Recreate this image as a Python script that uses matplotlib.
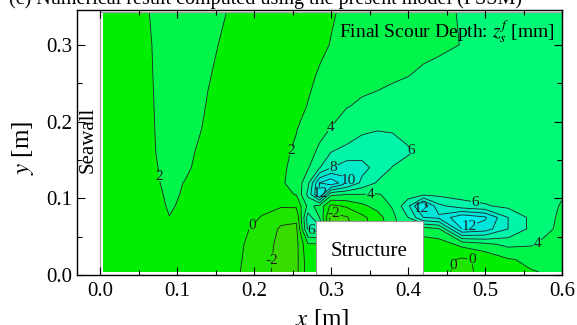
import numpy as np
import matplotlib
matplotlib.use("Agg")
import matplotlib.pyplot as plt
from matplotlib.colors import ListedColormap, BoundaryNorm
from matplotlib.patches import Rectangle

plt.rcParams['font.family'] = ['Liberation Serif', 'DejaVu Serif']
plt.rcParams['mathtext.fontset'] = 'stix'
plt.rcParams['contour.negative_linestyle'] = 'solid'

# grid (m)
x_m = [0.005, 0.04, 0.07, 0.09, 0.11, 0.14, 0.18, 0.21, 0.235, 0.255, 0.27, 0.285,
       0.30, 0.32, 0.34, 0.36, 0.38, 0.40, 0.42, 0.44, 0.47, 0.50, 0.53, 0.56, 0.60]
y_m = [0.004, 0.02, 0.04, 0.06, 0.075, 0.09, 0.105, 0.12, 0.14, 0.16, 0.19, 0.22,
       0.26, 0.30, 0.342]

# final scour depth z_s^f [mm], one row per y (bottom -> top)
zs = [
    [1.3, 1.4, 1.4, 1.4, 1.3, 1.1, 0.1, -1.3, -2.7, -2.5, 1.0, 1.5, 1.5, 1.5, 1.5, 1.5, 1.5, 1.0, 0.6, 0.5, -0.5, 0.5, 1.4, 1.9, 2.3],
    [1.3, 1.4, 1.4, 1.4, 1.3, 1.1, 0.2, -1.2, -2.7, -2.6, 1.2, 1.5, 1.5, 1.5, 1.5, 1.5, 1.5, 1.0, 0.8, 0.8, -0.3, 0.4, 1.8, 2.4, 2.6],
    [1.3, 1.5, 1.5, 1.5, 1.4, 1.2, 0.3, -1.0, -2.6, -2.6, 1.8, 1.8, 1.8, 1.8, 1.8, 1.8, 1.8, 1.5, 1.0, 1.0, 2.5, 3.5, 4.5, 4.2, 3.0],
    [1.4, 1.6, 1.6, 1.65, 1.55, 1.3, 0.5, -0.6, -2.3, -2.4, 6.5, 7.0, -2.8, -2.5, -0.8, 0.8, 3.2, 5.5, 3.0, 3.8, 12.0, 11.0, 8.0, 5.5, 3.4],
    [1.5, 1.7, 1.75, 1.99, 1.8, 1.5, 1.0, -0.1, -1.3, -1.6, 7.0, 4.0, -2.8, -2.2, -0.5, 1.0, 3.5, 6.0, 10.0, 10.5, 13.5, 12.3, 8.0, 5.5, 3.6],
    [1.5, 1.75, 1.8, 2.06, 1.9, 1.6, 1.2, 0.5, 0.2, 0.3, 4.5, 3.5, -0.5, 0.3, 1.5, 2.8, 4.2, 7.5, 13.5, 8.5, 6.8, 6.2, 5.5, 4.8, 3.9],
    [1.5, 1.8, 1.85, 2.1, 1.95, 1.7, 1.4, 1.3, 1.5, 2.1, 6.5, 12.5, 4.5, 4.05, 3.95, 3.9, 4.3, 5.0, 5.6, 5.5, 5.3, 5.2, 5.0, 4.7, 4.1],
    [1.5, 1.8, 1.9, 2.15, 1.98, 1.7, 1.4, 1.5, 1.8, 2.6, 5.5, 12.0, 13.5, 10.5, 7.5, 5.8, 5.2, 5.0, 4.9, 4.85, 4.7, 4.65, 4.6, 4.6, 4.6],
    [1.5, 1.8, 1.93, 2.2, 2.1, 1.75, 1.45, 1.5, 1.75, 2.4, 3.8, 5.9, 7.9, 9.2, 8.7, 7.3, 5.9, 5.3, 5.0, 4.9, 4.7, 4.65, 4.6, 4.6, 4.6],
    [1.5, 1.8, 1.96, 2.3, 2.15, 1.8, 1.5, 1.5, 1.7, 2.2, 3.3, 4.4, 6.0, 6.5, 7.2, 7.3, 7.0, 6.2, 5.5, 5.1, 4.8, 4.7, 4.6, 4.6, 4.6],
    [1.5, 1.8, 1.98, 2.35, 2.4, 1.85, 1.5, 1.5, 1.65, 1.95, 2.6, 3.4, 4.1, 5.0, 5.6, 5.9, 5.8, 5.5, 5.2, 5.0, 4.8, 4.7, 4.65, 4.6, 4.6],
    [1.5, 1.8, 2.0, 2.4, 2.45, 1.95, 1.6, 1.6, 1.7, 1.85, 2.02, 2.5, 3.1, 3.9, 4.3, 4.4, 4.45, 4.5, 4.55, 4.6, 4.6, 4.6, 4.6, 4.6, 4.65],
    [1.5, 1.8, 2.01, 2.4, 2.5, 2.05, 1.6, 1.6, 1.7, 1.8, 1.9, 2.05, 2.4, 2.9, 3.3, 3.6, 3.85, 3.98, 4.15, 4.25, 4.35, 4.45, 4.55, 4.6, 4.7],
    [1.5, 1.8, 2.02, 2.4, 2.5, 2.15, 1.7, 1.6, 1.6, 1.7, 1.8, 1.9, 2.02, 2.2, 2.6, 3.0, 3.3, 3.6, 3.75, 3.85, 4.02, 4.3, 4.5, 4.6, 4.7],
    [1.5, 1.8, 2.05, 2.4, 2.5, 2.3, 1.8, 1.6, 1.6, 1.7, 1.75, 1.85, 1.95, 2.1, 2.5, 2.9, 3.2, 3.5, 3.7, 3.85, 4.05, 4.3, 4.5, 4.6, 4.7],
]

fill_levels = [-8, -2, 0, 2, 4, 6, 8, 10, 12, 20]
line_levels = [-2, 0, 2, 4, 6, 8, 10, 12]
band_colors = ['#3adc00', '#1ee600', '#00ef00', '#00f54a', '#00fa78', '#00f5a8',
               '#00edc8', '#00e6dc', '#00f0f0']

# where the contour labels sit (x, y)
label_xy = [(0.076, 0.128), (0.247, 0.162), (0.30, 0.192), (0.405, 0.162),
            (0.302, 0.143), (0.323, 0.124), (0.285, 0.106), (0.351, 0.107),
            (0.304, 0.083), (0.196, 0.065), (0.218, 0.019), (0.274, 0.057),
            (0.418, 0.088), (0.479, 0.066), (0.487, 0.092), (0.567, 0.043),
            (0.49, 0.021), (0.463, 0.011)]

X, Y = np.meshgrid(x_m, y_m)
Z = np.array(zs)

fig = plt.figure(figsize=(5.77, 3.25), dpi=100)
ax = fig.add_axes([77/577, 50/325, 485/577, 265.5/325])

cmap = ListedColormap(band_colors)
norm = BoundaryNorm(fill_levels, cmap.N)
ax.contourf(X, Y, Z, levels=fill_levels, cmap=cmap, norm=norm, zorder=1)
cs = ax.contour(X, Y, Z, levels=line_levels, colors='#202020', linewidths=0.6,
                zorder=1.5)
labels = ax.clabel(cs, fmt='%d', fontsize=11, inline=True, inline_spacing=1,
                   manual=label_xy)
for t in labels:
    t.set_rotation(0)

# seawall boundary + structure
ax.add_patch(Rectangle((0, 0), 0.6, 0.343, fill=False, ec='0.65', lw=0.9, zorder=1.6))
ax.add_patch(Rectangle((0.28, 0), 0.14, 0.07, fc='white', ec='0.6', lw=0.8, zorder=2))
ax.text(0.35, 0.031, 'Structure', ha='center', va='center', fontsize=15, zorder=3)
ax.text(-0.016, 0.176, 'Seawall', rotation=90, ha='center', va='center', fontsize=15)
ax.text(0.591, 0.31, 'Final Scour Depth: $z_s^f$ [mm]', ha='right', va='baseline',
        fontsize=14)

ax.set_xlim(-0.03, 0.6)
ax.set_ylim(0, 0.346)
ax.set_xticks(np.arange(0, 0.61, 0.1))
ax.set_xticks(np.arange(0, 0.61, 0.05), minor=True)
ax.set_yticks(np.arange(0, 0.31, 0.1))
ax.set_yticks(np.arange(0, 0.346, 0.05), minor=True)
ax.xaxis.set_major_formatter(matplotlib.ticker.FormatStrFormatter('%.1f'))
ax.yaxis.set_major_formatter(matplotlib.ticker.FormatStrFormatter('%.1f'))
ax.tick_params(which='both', direction='in', top=True, right=True, labelsize=15)
ax.tick_params(which='major', length=6, width=0.8)
ax.tick_params(which='minor', length=3.5, width=0.8)
ax.tick_params(axis='x', pad=5)
ax.set_axisbelow(False)
for s in ax.spines.values():
    s.set_linewidth(1.0)

ax.set_xlabel('$x$ [m]', fontsize=18)
ax.set_ylabel('$y$ [m]', fontsize=18)
ax.xaxis.set_label_coords(0.505, -0.12)
ax.yaxis.set_label_coords(-0.085, 0.48)

fig.text(0.461, 0.987, '(c) Numerical result computed using the present model (PSSM)',
         ha='center', va='baseline', fontsize=14.5)

fig.savefig('out.png', dpi=100)
